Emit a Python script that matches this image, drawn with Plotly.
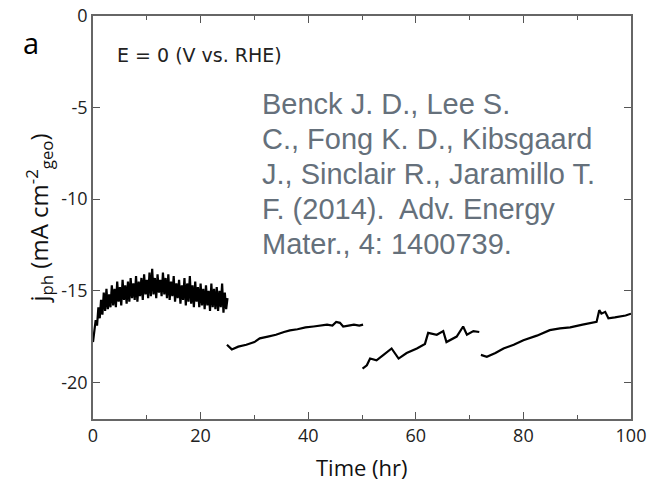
import plotly.graph_objects as go

# segment 1: 0 - 25 hr (noisy band)
t1 = [0, 0.25, 0.5, 0.75, 1, 1.25, 1.5, 1.75, 2, 2.25, 2.5, 2.75, 3, 3.25, 3.5,
      3.75, 4, 4.25, 4.5, 4.75, 5, 5.25, 5.5, 5.75, 6, 6.25, 6.5, 6.75, 7,
      7.25, 7.5, 7.75, 8, 8.25, 8.5, 8.75, 9, 9.25, 9.5, 9.75, 10, 10.25, 10.5,
      10.75, 11, 11.25, 11.5, 11.75, 12, 12.25, 12.5, 12.75, 13, 13.25, 13.5,
      13.75, 14, 14.25, 14.5, 14.75, 15, 15.25, 15.5, 15.75, 16, 16.25, 16.5,
      16.75, 17, 17.25, 17.5, 17.75, 18, 18.25, 18.5, 18.75, 19, 19.25, 19.5,
      19.75, 20, 20.25, 20.5, 20.75, 21, 21.25, 21.5, 21.75, 22, 22.25, 22.5,
      22.75, 23, 23.25, 23.5, 23.75, 24, 24.25, 24.5, 24.75, 25]
j1 = [-17.8, -17.2, -16.6, -16.9, -15.9, -16.5, -15.5, -16.3, -15.1, -16.1,
      -14.9, -16.0, -15.2, -15.9, -14.7, -15.8, -14.9, -15.9, -14.5, -15.6,
      -14.8, -15.8, -14.4, -15.5, -14.7, -15.7, -14.5, -15.6, -14.3, -15.4,
      -14.6, -15.5, -14.2, -15.6, -14.5, -15.3, -14.3, -15.5, -14.1, -15.2,
      -14.4, -15.4, -14.0, -15.3, -13.8, -15.2, -14.3, -15.4, -14.1, -15.1,
      -14.4, -15.3, -14.0, -15.2, -14.3, -15.4, -14.1, -15.5, -14.5, -15.3,
      -14.2, -15.6, -14.6, -15.4, -14.4, -15.7, -14.7, -15.5, -14.3, -15.8,
      -14.6, -15.6, -14.2, -15.7, -14.7, -15.9, -14.5, -15.6, -14.8, -15.9,
      -14.6, -15.8, -14.9, -16.0, -14.7, -15.8, -15.0, -16.1, -14.6, -15.9,
      -14.9, -16.0, -14.8, -16.1, -15.0, -15.9, -14.6, -16.2, -15.1, -16.0,
      -15.4]

# segment 2: 25 - 50 hr
t2 = [24.9, 25.8, 27.0, 28.5, 30.0, 31.0, 32.5, 34.0, 35.5, 36.6, 38.0, 39.5,
      41.0, 42.2, 43.5, 44.5, 45.2, 45.9, 46.5, 47.5, 48.5, 49.5, 50.2]
j2 = [-17.95, -18.2, -18.05, -17.95, -17.8, -17.6, -17.5, -17.4, -17.25,
      -17.16, -17.1, -17.0, -16.95, -16.9, -16.85, -16.9, -16.7, -16.75,
      -16.95, -16.9, -16.85, -16.9, -16.85]

# segment 3: 50 - 72 hr
t3 = [50.1, 50.9, 51.5, 52.7, 54.0, 55.5, 56.8, 58.3, 60.2, 61.7, 62.3, 63.9,
      65.1, 65.7, 67.6, 68.8, 69.5, 70.7, 71.8]
j3 = [-19.25, -19.07, -18.7, -18.8, -18.5, -18.15, -18.7, -18.4, -18.15,
      -17.9, -17.3, -17.4, -17.2, -17.8, -17.5, -16.95, -17.4, -17.2, -17.25]

# segment 4: 72 - 100 hr
t4 = [72.1, 73.2, 74.8, 76.3, 78.2, 80.0, 82.5, 84.9, 86.8, 88.7, 91.0, 93.6,
      94.1, 94.5, 95.2, 95.8, 97.0, 98.0, 99.0, 100.0]
j4 = [-18.5, -18.6, -18.4, -18.15, -17.95, -17.7, -17.45, -17.15, -17.05,
      -17.0, -16.85, -16.7, -16.06, -16.25, -16.15, -16.5, -16.45, -16.4,
      -16.35, -16.25]

segments = [(t1, j1), (t2, j2), (t3, j3), (t4, j4)]

x_ticks = [0, 20, 40, 60, 80, 100]
y_ticks = [0, -5, -10, -15, -20]
y_labels = ["0", "-5", "-10", "-15", "-20"]

citation = ["Benck J. D., Lee S.",
            "C., Fong K. D., Kibsgaard",
            "J., Sinclair R., Jaramillo T.",
            "F. (2014).  Adv. Energy",
            "Mater., 4: 1400739."]

fig = go.Figure()
for t, j in segments:
    fig.add_trace(go.Scatter(x=t, y=j, mode="lines",
                             line=dict(color="black", width=2.2),
                             showlegend=False))

font_main = "Open Sans, DejaVu Sans"
axis_font = dict(family=font_main, size=18, color="#222")
fig.update_layout(
    width=650, height=484,
    margin=dict(l=93, r=19, t=16, b=65),
    paper_bgcolor="white", plot_bgcolor="white",
    xaxis=dict(range=[0, 100], tickvals=x_ticks, ticks="inside", ticklen=7,
               tickcolor="#555", linecolor="#666", linewidth=1.5,
               mirror="ticks", showgrid=False, zeroline=False,
               tickfont=axis_font, automargin=False,
               minor=dict(dtick=10, ticks="inside", ticklen=4, tickcolor="#555")),
    yaxis=dict(range=[-22, 0], tickvals=y_ticks, ticktext=y_labels,
               ticks="inside", ticklen=7,
               tickcolor="#555", linecolor="#666", linewidth=1.5,
               mirror="ticks", showgrid=False, zeroline=False,
               tickfont=axis_font, automargin=False,
               title=dict(text="j<sub>ph</sub> (mA cm<sup>-2</sup><sub>geo</sub>)",
                          font=dict(family=font_main, size=24, color="#111"),
                          standoff=6)),
)

fig.add_annotation(text="Time (hr)", xref="paper", yref="paper", x=0.5, y=-0.119,
                   xanchor="center", yanchor="middle", showarrow=False,
                   font=dict(family=font_main, size=22, color="#111"))
fig.add_annotation(text="a", xref="paper", yref="paper", x=-0.115, y=0.935,
                   xanchor="center", yanchor="middle", showarrow=False,
                   font=dict(family=font_main, size=29, color="black"))
fig.add_annotation(text="E = 0 (V vs. RHE)", xref="paper", yref="paper",
                   x=0.041, y=0.903, xanchor="left", yanchor="middle", showarrow=False,
                   font=dict(family="DejaVu Sans", size=19, color="#222"))
for i, line in enumerate(citation):
    fig.add_annotation(text=line, xref="paper", yref="paper",
                       x=0.31, y=0.782 - i * 35 / 403, xanchor="left",
                       yanchor="middle", showarrow=False,
                       font=dict(family="Liberation Sans, Arial", size=29,
                                 color="#65707b"))

# drop the page's default body margin so the figure sits at the window origin
fig.write_html("out.html", config={"displayModeBar": False},
               post_script="document.body.style.margin = '0';")
